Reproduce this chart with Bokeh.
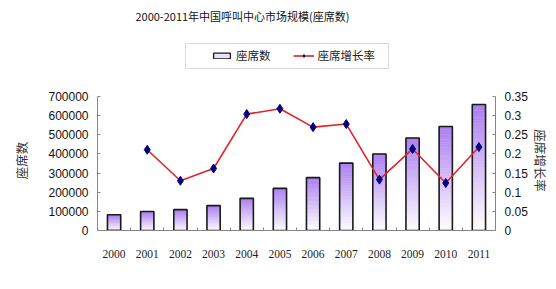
import math
import numpy as np
from bokeh.plotting import figure
from bokeh.models import (Range1d, LinearAxis, FixedTicker, CustomJSTickFormatter,
                          Legend, LegendItem, Label, BoxAnnotation, ColumnDataSource)
from bokeh.embed import file_html
from bokeh.resources import INLINE

# ---- data ----
years = ["2000", "2001", "2002", "2003", "2004", "2005",
         "2006", "2007", "2008", "2009", "2010", "2011"]
seats = [82000, 99000, 109000, 130000, 168000, 220000,
         276000, 352000, 400000, 483000, 543000, 658000]
rate_years = years[1:]
rates = [0.211, 0.130, 0.162, 0.304, 0.318, 0.270,
         0.278, 0.133, 0.213, 0.124, 0.218]
left_ticks = [0, 100000, 200000, 300000, 400000, 500000, 600000, 700000]
right_ticks = [0, 0.05, 0.10, 0.15, 0.20, 0.25, 0.30, 0.35]
left_max = 700000
right_max = 0.35
title_text = "2000-2011年中国呼叫中心市场规模(座席数)"
bar_name = "座席数"
rate_name = "座席增长率"

# plot-area geometry (canvas pixels)
FL, FR, AT, FB = 97, 495, 96, 230   # AT: top of the value axes
W, H = 556, 289
scale = FB / (FB - AT)              # frame spans canvas top .. FB

pos = {y: i + 0.5 for i, y in enumerate(years)}

p = figure(width=W, height=H, output_backend="svg", toolbar_location=None,
           title_location=None,
           x_range=Range1d(0, len(years)), y_range=Range1d(0, left_max * scale),
           min_border_left=FL, min_border_right=W - FR,
           min_border_top=0, min_border_bottom=H - FB)
p.outline_line_color = None
p.grid.visible = False
p.extra_y_ranges = {"rate": Range1d(0, right_max * scale)}

def sx(cx):
    return cx - FL
def sy(cy):
    return FB - cy

# ---- gradient bars (slices) ----
N = 40
top_rgb = np.array([172, 126, 240])
bot_rgb = np.array([255, 255, 255])
xs, bots, tops, cols = [], [], [], []
for y, v in zip(years, seats):
    for k in range(N):
        t = (k + 0.5) / N
        c = bot_rgb + (top_rgb - bot_rgb) * t
        xs.append(pos[y])
        bots.append(v * k / N)
        tops.append(v * (k + 1) / N)
        cols.append("#%02x%02x%02x" % tuple(int(round(q)) for q in c))
src = ColumnDataSource(dict(x=xs, bottom=bots, top=tops, color=cols))
p.vbar(x="x", bottom="bottom", top="top", width=0.4, source=src,
       fill_color="color", line_color="color", line_width=0.6)
p.vbar(x=[pos[y] for y in years], top=seats, width=0.4,
       fill_alpha=0, line_color="#1a1a1a", line_width=1.6)
# legend swatch renderer: zero-height bar on the first bar's base
legend_bar = p.vbar(x=[pos[years[0]]], top=[0], bottom=[0], width=0.4,
                    fill_color="#ebe1fb", line_color="#1a1a1a", line_width=1.3)

# ---- growth line ----
rx = [pos[y] for y in rate_years]
ln = p.line(rx, rates, y_range_name="rate", line_color="#e0242a", line_width=1.6)
mk = p.scatter(rx, rates, y_range_name="rate", marker="diamond", size=9,
               fill_color="#000080", line_color="#000080")

# ---- axes ----
xa = p.xaxis[0]
xa.ticker = FixedTicker(ticks=[pos[y] for y in years],
                        minor_ticks=list(range(0, len(years) + 1)))
xa.major_label_overrides = {pos[y]: y for y in years}
xa.major_tick_line_color = None
xa.minor_tick_in = 3
xa.minor_tick_out = 0
xa.minor_tick_line_color = "#868686"
xa.axis_line_color = "#868686"
xa.major_label_text_font = "Liberation Serif"
xa.major_label_text_font_size = "11.5px"
xa.major_label_text_color = "#222222"
xa.major_label_standoff = 13

# pad axis titles so their centre lands on the middle of the value axis
pad = "\u3000" * 7 + "\u2009"

ya = p.yaxis[0]
ya.bounds = (0, left_max)
ya.ticker = FixedTicker(ticks=left_ticks)
ya.formatter = CustomJSTickFormatter(code="return String(Math.round(tick));")
ya.major_tick_in = 3
ya.major_tick_out = 0
ya.minor_tick_line_color = None
ya.axis_line_color = "#868686"
ya.major_tick_line_color = "#868686"
ya.major_label_text_font = "Liberation Sans"
ya.major_label_text_font_size = "12px"
ya.major_label_text_color = "#111111"
ya.major_label_standoff = 9
ya.axis_label = bar_name + pad
ya.axis_label_text_font = "Noto Sans CJK SC"
ya.axis_label_text_font_size = "12.5px"
ya.axis_label_text_font_style = "normal"
ya.axis_label_text_color = "#333333"
ya.axis_label_standoff = 14

ra = LinearAxis(y_range_name="rate")
ra.bounds = (0, right_max)
ra.ticker = FixedTicker(ticks=right_ticks)
ra.formatter = CustomJSTickFormatter(code="return String(Math.round(tick*100)/100);")
ra.major_tick_in = 3
ra.major_tick_out = 0
ra.minor_tick_line_color = None
ra.axis_line_color = "#868686"
ra.major_tick_line_color = "#868686"
ra.major_label_text_font = "Liberation Sans"
ra.major_label_text_font_size = "12px"
ra.major_label_text_color = "#111111"
ra.major_label_standoff = 9
ra.axis_label = pad + rate_name
ra.axis_label_text_font = "Noto Sans CJK SC"
ra.axis_label_text_font_size = "12.5px"
ra.axis_label_text_font_style = "normal"
ra.axis_label_text_color = "#333333"
ra.axis_label_standoff = 0
p.add_layout(ra, "right")

# ---- title (inside the tall frame) ----
p.add_layout(Label(x=sx(242), y=sy(15), x_units="screen", y_units="screen",
                   text=title_text, text_align="center", text_baseline="middle",
                   text_font="Noto Sans CJK SC", text_font_size="11px",
                   text_color="#111111"))

# ---- legend ----
p.add_layout(BoxAnnotation(left=sx(185), right=sx(388), top=sy(43), bottom=sy(68),
                           left_units="screen", right_units="screen",
                           top_units="screen", bottom_units="screen",
                           fill_color="white", fill_alpha=1,
                           line_color="#808080", line_width=1))
legend = Legend(items=[LegendItem(label=bar_name, renderers=[legend_bar]),
                       LegendItem(label=rate_name, renderers=[ln, mk])],
                orientation="horizontal", location=(sx(211), sy(63)),
                padding=0, margin=0, spacing=22, label_standoff=4,
                glyph_width=21, glyph_height=7,
                border_line_alpha=0, background_fill_alpha=0,
                label_text_font="Noto Sans CJK SC", label_text_font_size="11.5px",
                label_text_color="#222222", label_height=12)
p.add_layout(legend, "center")

open("out.html", "w").write(file_html(p, INLINE))
